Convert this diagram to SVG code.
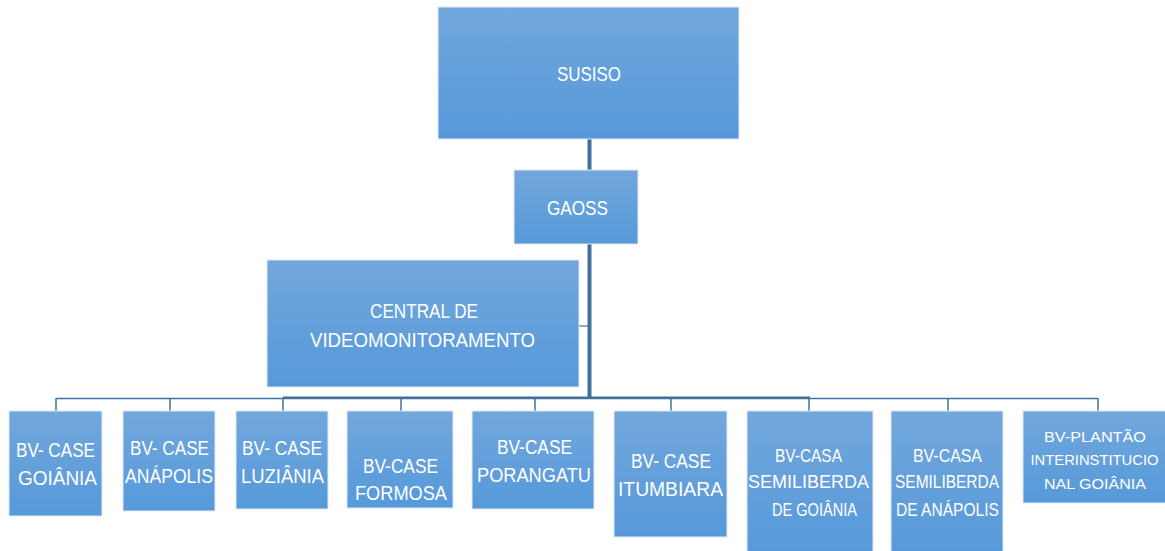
<svg xmlns="http://www.w3.org/2000/svg" width="1165" height="551" viewBox="0 0 1165 551">
<style>
.box{fill:url(#g);stroke:#dfeaf6;stroke-width:1}
.t{font-family:"Liberation Sans",Arial,sans-serif;fill:#ffffff;text-anchor:middle}
.c{stroke:#41719c;fill:none}
</style>
<defs>
<linearGradient id="g" x1="0" y1="0" x2="0" y2="1">
<stop offset="0" stop-color="#72a7dc"/>
<stop offset="1" stop-color="#5699da"/>
</linearGradient>
</defs>
<rect width="1165" height="551" fill="#ffffff"/>
<g id="connectors">
<line class="c" x1="589.5" y1="139" x2="589.5" y2="399" stroke-width="4" stroke="#4a77a3"/>
<line class="c" x1="579" y1="326" x2="589" y2="326" stroke-width="1.2"/>
<line class="c" x1="56" y1="398.5" x2="1098" y2="398.5" stroke-width="1.5"/>
<line class="c" x1="283" y1="397.5" x2="810" y2="397.5" stroke-width="2.2"/>
<path class="c" stroke-width="1.5" d="M56 398V411M170 398V411M283 398V411M401 398V411M535 398V411M671 398V411M809 398V411M948 398V411M1098 398V411"/>
</g>
<g id="susiso">
<rect class="box" x="438" y="7" width="301" height="132"/>
<text class="t" x="589" y="81" font-size="20" textLength="64" lengthAdjust="spacingAndGlyphs">SUSISO</text>
</g>
<g id="gaoss">
<rect class="box" x="514" y="170" width="124" height="74"/>
<text class="t" x="577.5" y="215" font-size="20" textLength="61" lengthAdjust="spacingAndGlyphs">GAOSS</text>
</g>
<g id="central">
<rect class="box" x="267" y="260" width="312" height="127"/>
<text class="t" x="424" y="318" font-size="20" textLength="108" lengthAdjust="spacingAndGlyphs">CENTRAL DE</text>
<text class="t" x="422.5" y="347" font-size="20" textLength="225" lengthAdjust="spacingAndGlyphs">VIDEOMONITORAMENTO</text>
</g>
<g id="goiania">
<rect class="box" x="9" y="411" width="93" height="105"/>
<text class="t" x="55.5" y="457" font-size="19.5" textLength="79" lengthAdjust="spacingAndGlyphs">BV- CASE</text>
<text class="t" x="57.5" y="485" font-size="19.5" textLength="79" lengthAdjust="spacingAndGlyphs">GOIÂNIA</text>
</g>
<g id="anapolis">
<rect class="box" x="123" y="411" width="92" height="100"/>
<text class="t" x="169.5" y="455" font-size="19.5" textLength="79" lengthAdjust="spacingAndGlyphs">BV- CASE</text>
<text class="t" x="169" y="483" font-size="19.5" textLength="88" lengthAdjust="spacingAndGlyphs">ANÁPOLIS</text>
</g>
<g id="luziania">
<rect class="box" x="236" y="411" width="92" height="98"/>
<text class="t" x="282" y="455" font-size="19.5" textLength="80" lengthAdjust="spacingAndGlyphs">BV- CASE</text>
<text class="t" x="282.5" y="483" font-size="19.5" textLength="83" lengthAdjust="spacingAndGlyphs">LUZIÂNIA</text>
</g>
<g id="formosa">
<rect class="box" x="347" y="411" width="106" height="97"/>
<text class="t" x="400.5" y="473" font-size="19.5" textLength="75" lengthAdjust="spacingAndGlyphs">BV-CASE</text>
<text class="t" x="401" y="500" font-size="19.5" textLength="92" lengthAdjust="spacingAndGlyphs">FORMOSA</text>
</g>
<g id="porangatu">
<rect class="box" x="472" y="411" width="122" height="98"/>
<text class="t" x="534.5" y="454" font-size="19.5" textLength="75" lengthAdjust="spacingAndGlyphs">BV-CASE</text>
<text class="t" x="534" y="482" font-size="19.5" textLength="114" lengthAdjust="spacingAndGlyphs">PORANGATU</text>
</g>
<g id="itumbiara">
<rect class="box" x="614" y="411" width="113" height="126"/>
<text class="t" x="671" y="468" font-size="19.5" textLength="80" lengthAdjust="spacingAndGlyphs">BV- CASE</text>
<text class="t" x="670.5" y="496" font-size="19.5" textLength="105" lengthAdjust="spacingAndGlyphs">ITUMBIARA</text>
</g>
<g id="semiliberdade-goiania">
<rect class="box" x="747" y="411" width="126" height="145"/>
<text class="t" x="808.5" y="462" font-size="17.5" textLength="67" lengthAdjust="spacingAndGlyphs">BV-CASA</text>
<text class="t" x="808.5" y="488" font-size="17.5" textLength="121" lengthAdjust="spacingAndGlyphs">SEMILIBERDA</text>
<text class="t" x="814.5" y="516" font-size="17.5" textLength="85" lengthAdjust="spacingAndGlyphs">DE GOIÂNIA</text>
</g>
<g id="semiliberdade-anapolis">
<rect class="box" x="891" y="411" width="112" height="145"/>
<text class="t" x="947.5" y="462" font-size="17.5" textLength="69" lengthAdjust="spacingAndGlyphs">BV-CASA</text>
<text class="t" x="947" y="488" font-size="17.5" textLength="104" lengthAdjust="spacingAndGlyphs">SEMILIBERDA</text>
<text class="t" x="947.5" y="516" font-size="17.5" textLength="103" lengthAdjust="spacingAndGlyphs">DE ANÁPOLIS</text>
</g>
<g id="plantao">
<rect class="box" x="1023" y="411" width="145" height="92"/>
<text class="t" x="1095" y="442" font-size="15" textLength="102" lengthAdjust="spacingAndGlyphs">BV-PLANTÃO</text>
<text class="t" x="1094.5" y="465" font-size="15" textLength="128" lengthAdjust="spacingAndGlyphs">INTERINSTITUCIO</text>
<text class="t" x="1095" y="489" font-size="15" textLength="102" lengthAdjust="spacingAndGlyphs">NAL GOIÂNIA</text>
</g>
</svg>
